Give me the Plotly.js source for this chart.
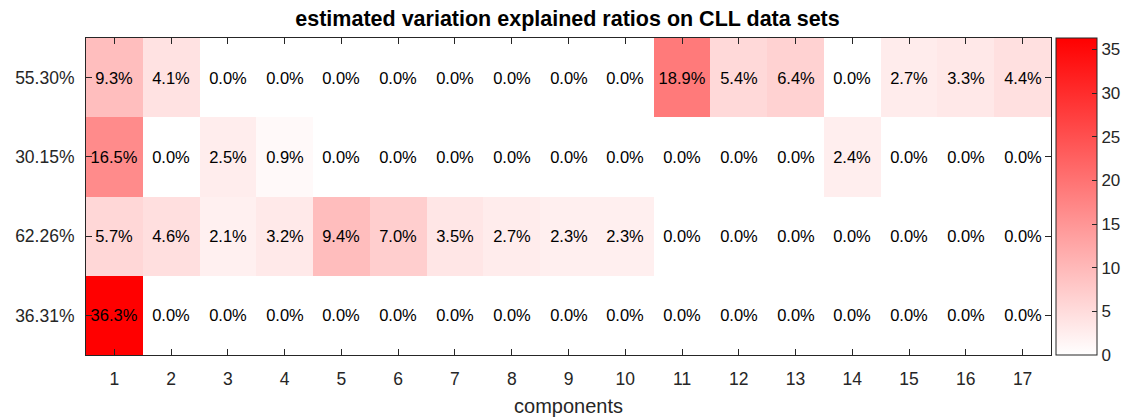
<!DOCTYPE html>
<html>
<head>
<meta charset="utf-8">
<script src="https://cdn.plot.ly/plotly-3.0.1.min.js"></script>
<style>html,body{margin:0;padding:0;background:#fff;}#chart{width:1126px;height:419px;}</style>
</head>
<body>
<div id="chart"></div>
<script>
const components = [1,2,3,4,5,6,7,8,9,10,11,12,13,14,15,16,17];
const rowLabels = ['55.30%', '30.15%', '62.26%', '36.31%'];
const row5530 = [9.3,4.1,0.0,0.0,0.0,0.0,0.0,0.0,0.0,0.0,18.9,5.4,6.4,0.0,2.7,3.3,4.4];
const row3015 = [16.5,0.0,2.5,0.9,0.0,0.0,0.0,0.0,0.0,0.0,0.0,0.0,0.0,2.4,0.0,0.0,0.0];
const row6226 = [5.7,4.6,2.1,3.2,9.4,7.0,3.5,2.7,2.3,2.3,0.0,0.0,0.0,0.0,0.0,0.0,0.0];
const row3631 = [36.3,0.0,0.0,0.0,0.0,0.0,0.0,0.0,0.0,0.0,0.0,0.0,0.0,0.0,0.0,0.0,0.0];
const colorbarTicks = [0,5,10,15,20,25,30,35];

const z = [row5530, row3015, row6226, row3631];
const axisColor = '#262626';
const font = 'Liberation Sans, Arial, sans-serif';

const trace = {
  type: 'heatmap',
  x: components,
  y: rowLabels,
  z: z,
  zmin: 0,
  zmax: 36.3,
  colorscale: [[0, 'rgb(255,255,255)'], [1, 'rgb(255,0,0)']],
  texttemplate: '%{z:.1f}%',
  textfont: {family: font, size: 16.5, color: '#000'},
  hoverinfo: 'skip',
  colorbar: {
    x: 1, xanchor: 'left', xpad: 5, xref: 'paper',
    y: 0.5, yanchor: 'middle', len: 1, lenmode: 'fraction', ypad: 0,
    thickness: 41, thicknessmode: 'pixels',
    outlinecolor: axisColor, outlinewidth: 1,
    tickvals: colorbarTicks,
    ticks: 'inside', ticklen: 5, tickcolor: axisColor,
    tickfont: {family: font, size: 17, color: axisColor}
  }
};

const layout = {
  width: 1126, height: 419,
  margin: {l: 86, r: 75, t: 38, b: 64, autoexpand: false},
  paper_bgcolor: '#fff', plot_bgcolor: '#fff',
  title: {text: '<b>estimated variation explained ratios on CLL data sets</b>', font: {family: font, size: 21.5, color: '#000'}, x: 0.504, xanchor: 'center', y: 0.957, yanchor: 'middle'},
  xaxis: {
    tickvals: components, ticktext: components.map(String),
    range: [0.5, 17.5], showgrid: false, zeroline: false,
    showline: true, linecolor: axisColor, linewidth: 1, mirror: 'ticks',
    ticks: 'inside', ticklen: 6, tickcolor: axisColor,
    ticklabelstandoff: 8,
    tickfont: {family: font, size: 17.5, color: axisColor},
    title: {text: 'components', font: {family: font, size: 20, color: axisColor}, standoff: 10}
  },
  yaxis: {
    type: 'category', autorange: 'reversed', showgrid: false, zeroline: false,
    showline: true, linecolor: axisColor, linewidth: 1, mirror: 'ticks',
    ticks: 'inside', ticklen: 6, tickcolor: axisColor,
    ticklabelstandoff: 7,
    tickfont: {family: font, size: 17.5, color: axisColor}
  }
};

Plotly.newPlot('chart', [trace], layout, {displayModeBar: false, staticPlot: true});
</script>
</body>
</html>
